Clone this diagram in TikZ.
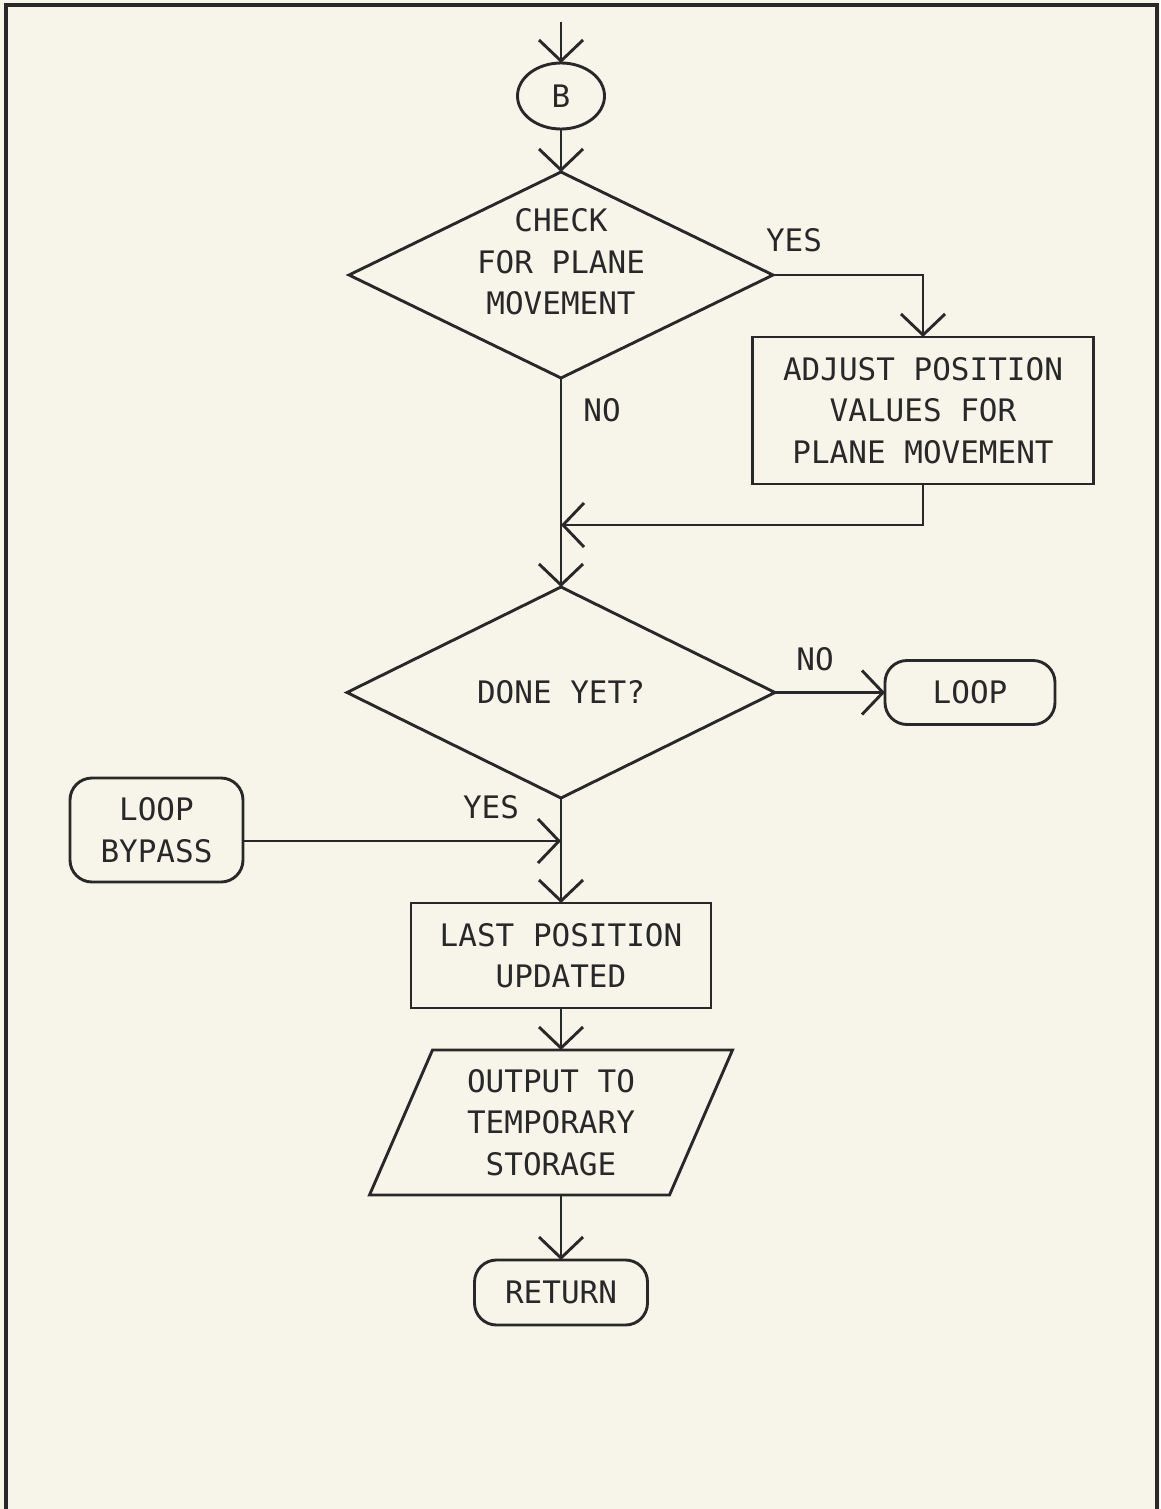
\documentclass[tikz,border=0pt]{standalone}
\usepackage{fontspec}
\setmainfont{DejaVu Sans Mono}
\usetikzlibrary{shapes.geometric,arrows.meta}
\definecolor{paper}{RGB}{247,245,234}
\definecolor{ink}{RGB}{40,40,40}
\newcommand\chartfont{\fontsize{31}{41.5}\selectfont}

\begin{document}
\begin{tikzpicture}[x=1pt,y=-1pt,
  every node/.style={font=\chartfont, text=ink, align=center, inner sep=0pt, outer sep=0pt},
  shapeline/.style={draw=ink, line width=2.9pt},
  terminal/.style={shapeline, rectangle, rounded corners=22pt},
  process/.style={shapeline, rectangle},
  decision/.style={shapeline, diamond},
  flow/.style={draw=ink, line width=2.9pt, -{Straight Barb[length=21pt,width=44pt]}}]

% sheet and its open frame
\fill[paper] (0,0) rectangle (1160,1509);
\useasboundingbox (0,0) rectangle (1160,1509);
\draw[ink, line width=3.6pt] (6,1509) -- (6,5) -- (1157,5) -- (1157,1509);

% nodes
\coordinate (entry) at (561,22);
\node[shapeline, ellipse, minimum width=87pt, minimum height=66pt] (B) at (561,96) {B};
\node[decision, minimum width=424pt, minimum height=206pt] (check) at (561,275) {};
\node (checktext) at (561,262) {CHECK\\FOR PLANE\\MOVEMENT};
\node[process, minimum width=341pt, minimum height=147pt] (adjust) at (923,410.5)
  {ADJUST POSITION\\VALUES FOR\\PLANE MOVEMENT};
\coordinate (merge) at (561,525);
\node[decision, minimum width=428pt, minimum height=211pt] (done) at (561,692.5) {DONE YET?};
\node[terminal, minimum width=170pt, minimum height=64pt] (loop) at (970,692.5) {LOOP};
\node[terminal, minimum width=173pt, minimum height=104pt] (bypass) at (156.5,830) {LOOP\\BYPASS};
\coordinate (join) at (561,841);
\node[process, minimum width=300pt, minimum height=105pt] (last) at (561,955.5)
  {LAST POSITION\\UPDATED};
% input/output box: text body, outlined as a parallelogram leaning right
\node[minimum width=300pt, minimum height=145pt] (store) at (551,1122.5)
  {OUTPUT TO\\TEMPORARY\\STORAGE};
\draw[shapeline, line join=miter]
  ([xshift=-31.5pt]store.south west) -- ([xshift=31.5pt]store.north west) --
  ([xshift=31.5pt]store.north east) -- ([xshift=-31.5pt]store.south east) -- cycle;
\node[terminal, minimum width=173pt, minimum height=65pt] (return) at (561,1292.5) {RETURN};

% branch labels
\node (yes1) at (794,240) {YES};
\node (no1) at (602,410) {NO};
\node (no2) at (815,659) {NO};
\node (yes2) at (491,807) {YES};

% connectors
\draw[flow] (entry) -- (B.north);
\draw[flow] (B.south) -- (check.north);
\draw[flow] (check.east) -| (adjust.north);
\draw[flow] (adjust.south) |- (merge);
\draw[flow] (check.south) -- (done.north);
\draw[flow] (done.east) -- (loop.west);
\draw[flow] (done.south) -- (last.north);
\draw[flow] (bypass.east |- join) -- (join);
\draw[flow] (last.south) -- (last.south |- store.north);
\draw[flow] (last.south |- store.south) -- (return.north);
\end{tikzpicture}
\end{document}
